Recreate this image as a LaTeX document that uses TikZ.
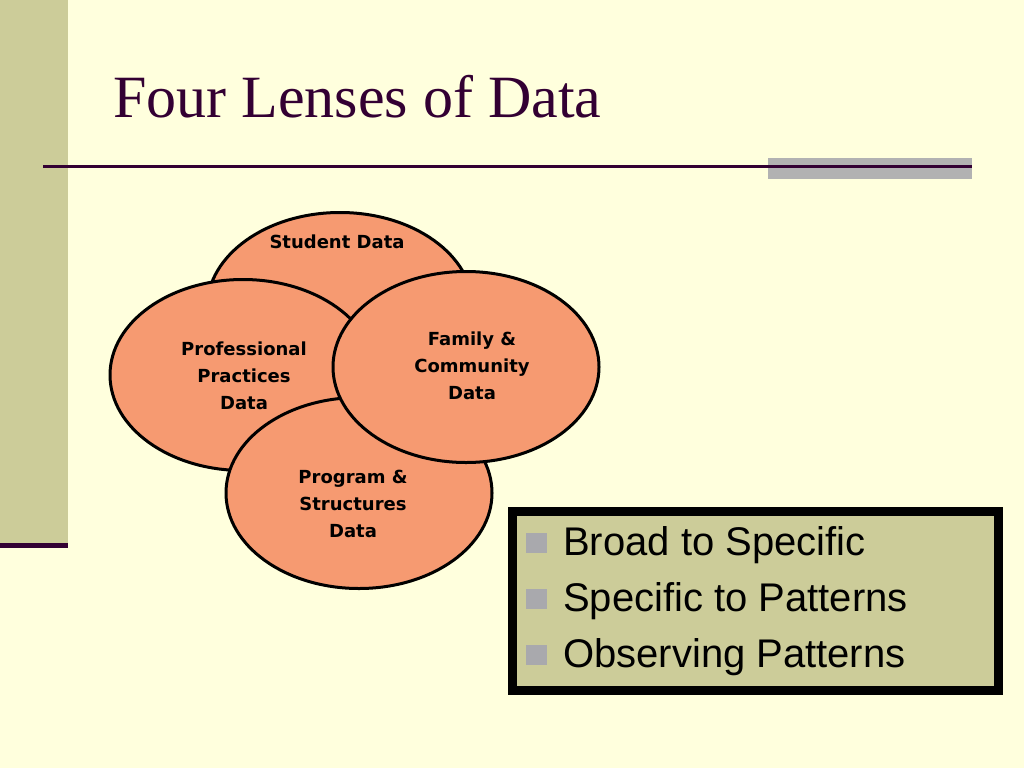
\documentclass[tikz,border=0pt]{standalone}
\usepackage{fontspec}
\setmainfont{Liberation Serif}
\newfontfamily\bodysans{Liberation Sans}
\newfontfamily\lenssans{DejaVu Sans}
\usetikzlibrary{shapes.geometric}
\definecolor{bgyellow}{HTML}{FFFFDD}
\definecolor{sidebar}{HTML}{CCCC99}
\definecolor{darkplum}{HTML}{330033}
\definecolor{barGray}{HTML}{B2B2B2}
\definecolor{salmon}{HTML}{F69A71}
\definecolor{bulletGray}{HTML}{A9A9AD}
\begin{document}
\begin{tikzpicture}[x=1pt,y=-1pt,
  lens/.style={ellipse, draw=black, line width=3pt, fill=salmon, inner sep=0pt,
     minimum width=266pt, minimum height=191pt},
  lenstext/.style={align=center, font=\lenssans\bfseries\fontsize{18}{27}\selectfont, text=black, inner sep=0pt},
  bullettext/.style={anchor=base west, inner sep=0pt, font=\bodysans\fontsize{40}{48}\selectfont, text=black},
  bulletsq/.style={fill=bulletGray, draw=none, minimum width=21pt, minimum height=20pt, inner sep=0pt}
]
\useasboundingbox (0,0) rectangle (1024,768);
\fill[bgyellow] (0,0) rectangle (1024,768);
% side bar
\fill[sidebar] (0,0) rectangle (68,543);
\fill[darkplum] (0,543) rectangle (68,548);
% title rule and gray bar
\fill[barGray] (768,158) rectangle (972,179);
\coordinate (ruleA) at (43,166.5);
\coordinate (ruleB) at (972,166.5);
\draw[darkplum, line width=2.4pt] (ruleA) -- (ruleB);
% title
\node[anchor=base west, inner sep=0pt, text=darkplum, font=\fontsize{60}{72}\selectfont] (title) at (113,117) {Four Lenses of Data};
% lenses
\node[lens] (student) at (340,308) {};
\node[lens] (prof) at (243,375) {};
\node[lens] (prog) at (359,493) {};
\node[lens] (family) at (466,367) {};
\node[lenstext, anchor=base] (studentT) at (337,248) {Student Data};
\node[lenstext] (profT) at (244,376) {Professional\\Practices\\Data};
\node[lenstext] (familyT) at (472,366) {Family \&\\Community\\Data};
\node[lenstext] (progT) at (353,504) {Program \&\\Structures\\Data};
% box
\node[draw=black, line width=9pt, fill=sidebar, minimum width=486pt, minimum height=179pt, inner sep=0pt] (box) at (755.5,601) {};
\node[bulletsq] (b1) at (536,543) {};
\node[bulletsq] (b2) at (536,599) {};
\node[bulletsq] (b3) at (536,655) {};
\node[bullettext] (t1) at (563,555) {Broad to Specific};
\node[bullettext] (t2) at (563,611) {Specific to Patterns};
\node[bullettext] (t3) at (563,667) {Observing Patterns};
\end{tikzpicture}
\end{document}
